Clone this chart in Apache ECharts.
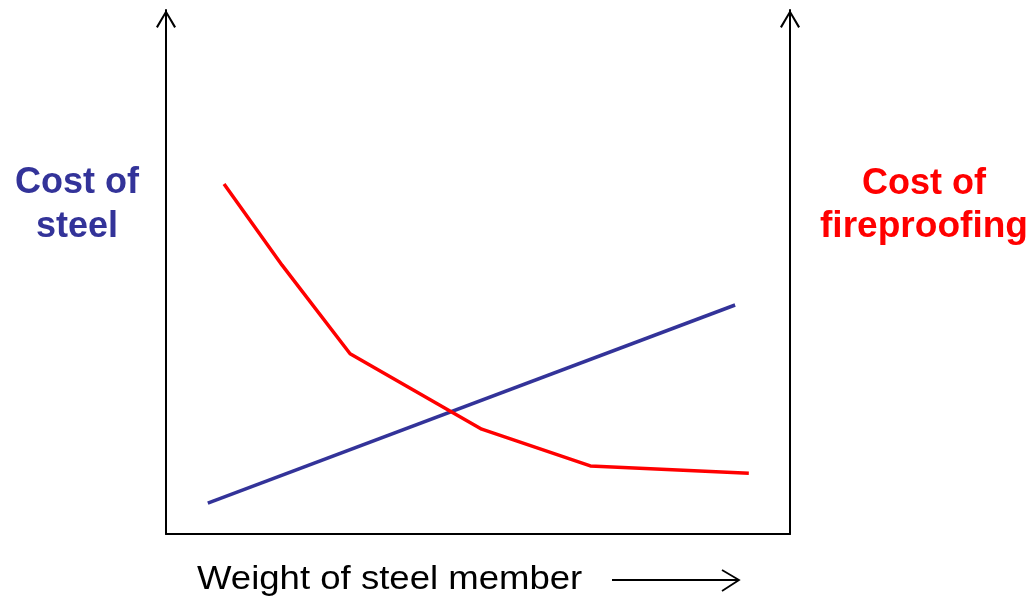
<!DOCTYPE html>
<html>
<head>
<meta charset="utf-8">
<script src="https://cdn.jsdelivr.net/npm/echarts@6/dist/echarts.min.js"></script>
<style>
html,body{margin:0;padding:0;background:#fff;}
#chart{width:1032px;height:600px;}
</style>
</head>
<body>
<div id="chart"></div>
<script>
// Data (relative units, x: weight of steel member 0-100, y: cost 0-100)
const steelX = [6.7, 91.2];
const steelY = [5.9, 43.7];
const fireX = [9.3, 18.6, 29.5, 50.6, 68.0, 93.4];
const fireY = [66.8, 51.3, 34.4, 20.0, 13.0, 11.6];

const leftTitle = ['Cost of', 'steel'];
const rightTitle = ['Cost of', 'fireproofing'];
const xTitle = 'Weight of steel member';

const chevron = 'path://M0,0 L10,16.6 L8.2,17.8 L0,3.6 L-8.2,17.8 L-10,16.6 Z';

const chart = echarts.init(document.getElementById('chart'), null, {renderer: 'canvas'});

const yAxisCommon = {
  type: 'value', min: 0, max: 100,
  axisLine: {show: true, lineStyle: {color: '#000', width: 2},
    symbol: ['none', chevron], symbolSize: [20, 18], symbolOffset: [0, -9]},
  axisTick: {show: false}, axisLabel: {show: false}, splitLine: {show: false}
};

const titleFont = 'bold 36px "Liberation Sans", Arial, sans-serif';

const option = {
  animation: false,
  backgroundColor: '#fff',
  grid: {left: 166, right: 242, top: 10, bottom: 66},
  xAxis: {
    type: 'value', min: 0, max: 100,
    axisLine: {show: true, lineStyle: {color: '#000', width: 2}},
    axisTick: {show: false}, axisLabel: {show: false}, splitLine: {show: false}
  },
  yAxis: [
    Object.assign({position: 'left'}, yAxisCommon),
    Object.assign({position: 'right'}, yAxisCommon)
  ],
  series: [
    {
      type: 'line', name: 'Cost of steel',
      data: steelX.map((x, i) => [x, steelY[i]]),
      showSymbol: false, symbol: 'none',
      lineStyle: {color: '#333399', width: 3.5}
    },
    {
      type: 'line', name: 'Cost of fireproofing',
      data: fireX.map((x, i) => [x, fireY[i]]),
      showSymbol: false, symbol: 'none',
      lineStyle: {color: '#ff0000', width: 3.5}
    }
  ],
  graphic: [
    {type: 'text', style: {x: 77, y: 183, text: leftTitle[0], textAlign: 'center', textVerticalAlign: 'middle',
      font: titleFont, fill: '#333399'}},
    {type: 'text', style: {x: 77, y: 227, text: leftTitle[1], textAlign: 'center', textVerticalAlign: 'middle',
      font: titleFont, fill: '#333399'}},
    {type: 'text', style: {x: 924, y: 184, text: rightTitle[0], textAlign: 'center', textVerticalAlign: 'middle',
      font: titleFont, fill: '#ff0000'}},
    {type: 'text', x: 924, y: 227, scaleX: 1.03, style: {x: 0, y: 0, text: rightTitle[1], textAlign: 'center', textVerticalAlign: 'middle',
      font: titleFont, fill: '#ff0000'}},
    {type: 'text', x: 197, y: 580, scaleX: 1.075, style: {x: 0, y: 0, text: xTitle, textAlign: 'left', textVerticalAlign: 'middle',
      font: '34px "Liberation Sans", Arial, sans-serif', fill: '#000'}},
    {type: 'polyline', shape: {points: [[612, 580], [739, 580]]}, style: {stroke: '#000', lineWidth: 1.8}},
    {type: 'polyline', shape: {points: [[722, 570], [739, 580], [722, 591]]}, style: {stroke: '#000', lineWidth: 1.8, fill: null}}
  ]
};
chart.setOption(option);
</script>
</body>
</html>
